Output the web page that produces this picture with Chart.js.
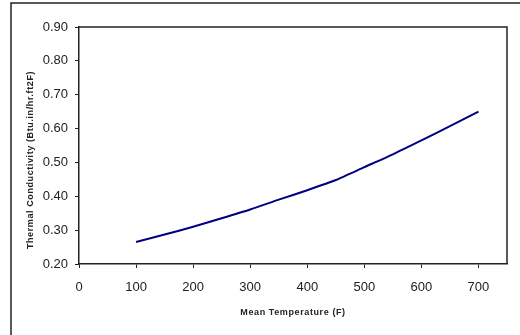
<!DOCTYPE html>
<html>
<head>
<meta charset="utf-8">
<script src="https://cdn.jsdelivr.net/npm/chart.js@4"></script>
<style>
  body { margin: 0; background: #fff; }
  #wrap { position: relative; width: 520px; height: 335px; }
</style>
</head>
<body>
<div id="wrap"><canvas id="kChart"></canvas></div>
<script>
const temps = [100, 150, 200, 250, 300, 350, 400, 450, 500, 550, 600, 650, 700];
const conductivity = [0.265, 0.287, 0.310, 0.335, 0.361, 0.390, 0.418, 0.448, 0.486, 0.524, 0.565, 0.607, 0.650];
const xTitle = "Mean Temperature (F)";
const yTitle = "Thermal Conductivity (Btu.in/hr.ft2F)";

const ctx = document.getElementById("kChart").getContext("2d");

// outer chart border, plot frame and the two small bold axis titles
const framePlugin = {
    id: "frame",
    beforeDraw(chart) {
        const c = chart.ctx;
        c.save();
        c.strokeStyle = "#222";
        c.lineWidth = 1.5;
        c.beginPath();
        c.moveTo(11, 335);
        c.lineTo(11, 3);
        c.lineTo(520, 3);
        c.stroke();
        c.restore();
    },
    afterDraw(chart) {
        const a = chart.chartArea;
        const c = chart.ctx;
        c.save();
        c.strokeStyle = "#222";
        c.lineWidth = 1.5;
        c.beginPath();
        c.moveTo(a.left, a.top);
        c.lineTo(a.right, a.top);
        c.lineTo(a.right, a.bottom);
        c.stroke();

        c.fillStyle = "#222";
        c.font = "bold 9px 'Liberation Sans', Arial, sans-serif";
        c.letterSpacing = "0.6px";
        c.textAlign = "center";
        c.textBaseline = "middle";
        c.fillText(xTitle, (a.left + a.right) / 2, 313);
        c.translate(31, 160);
        c.rotate(-Math.PI / 2);
        c.fillText(yTitle, 0, 0);
        c.restore();
    }
};

new Chart(ctx, {
    type: "line",
    data: {
        labels: temps,
        datasets: [{
            data: temps.map((t, i) => ({ x: t, y: conductivity[i] })),
            borderColor: "#000080",
            borderWidth: 2,
            pointRadius: 0,
            tension: 0.2,
            fill: false
        }]
    },
    options: {
        responsive: true,
        maintainAspectRatio: false,
        animation: false,
        layout: { padding: { left: 0, top: 27, right: 13, bottom: 0 } },
        plugins: {
            legend: { display: false },
            tooltip: { enabled: false }
        },
        scales: {
            x: {
                type: "linear",
                min: 0,
                max: 750,
                afterFit(s) { s.height = 71; },
                grid: { drawOnChartArea: false, tickLength: 4, color: "#222" },
                border: { color: "#222", width: 1.5 },
                ticks: {
                    stepSize: 100,
                    includeBounds: false,
                    maxRotation: 0,
                    padding: 12,
                    color: "#222",
                    font: { family: "'Liberation Sans', Arial, sans-serif", size: 13 }
                }
            },
            y: {
                min: 0.2,
                max: 0.9,
                afterFit(s) { s.width = 79; },
                grid: { drawOnChartArea: false, tickLength: 4, color: "#222" },
                border: { color: "#222", width: 1.5 },
                ticks: {
                    stepSize: 0.1,
                    padding: 7,
                    color: "#222",
                    font: { family: "'Liberation Sans', Arial, sans-serif", size: 13 },
                    callback: v => v.toFixed(2)
                }
            }
        }
    },
    plugins: [framePlugin]
});
</script>
</body>
</html>
